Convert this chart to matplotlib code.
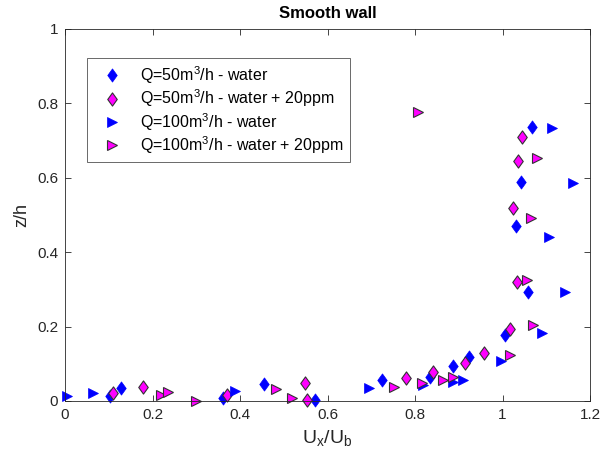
import matplotlib
matplotlib.use("Agg")
import matplotlib.pyplot as plt
from matplotlib.path import Path

plt.rcParams['font.family'] = ['Liberation Sans', 'DejaVu Sans']
plt.rcParams['mathtext.fontset'] = 'custom'
plt.rcParams['mathtext.rm'] = 'Liberation Sans'
plt.rcParams['mathtext.it'] = 'Liberation Sans'

# Q=50 m3/h - water (blue diamonds)
bd_x = [0.103, 0.127, 0.361, 0.455, 0.571, 0.724, 0.834, 0.887, 0.924, 1.006, 1.058, 1.030, 1.042, 1.068]
bd_y = [0.013, 0.035, 0.008, 0.046, 0.003, 0.056, 0.065, 0.094, 0.118, 0.177, 0.293, 0.470, 0.589, 0.736]

# Q=50 m3/h - water + 20ppm (magenta diamonds)
md_x = [0.110, 0.178, 0.370, 0.549, 0.553, 0.779, 0.841, 0.914, 0.958, 1.017, 1.033, 1.025, 1.036, 1.045]
md_y = [0.022, 0.038, 0.016, 0.048, 0.003, 0.063, 0.079, 0.103, 0.128, 0.193, 0.321, 0.518, 0.645, 0.709]

# Q=100 m3/h - water (blue triangles)
bt_x = [0.005, 0.064, 0.389, 0.695, 0.818, 0.887, 0.910, 0.997, 1.090, 1.143, 1.106, 1.161, 1.113]
bt_y = [0.013, 0.021, 0.027, 0.035, 0.043, 0.051, 0.056, 0.108, 0.183, 0.293, 0.441, 0.586, 0.734]

# Q=100 m3/h - water + 20ppm (magenta triangles)
mt_x = [0.219, 0.235, 0.299, 0.482, 0.519, 0.752, 0.816, 0.864, 0.887, 1.017, 1.070, 1.056, 1.065, 1.079, 0.807]
mt_y = [0.016, 0.024, 0.000, 0.032, 0.008, 0.038, 0.048, 0.056, 0.064, 0.124, 0.204, 0.325, 0.492, 0.653, 0.777]

labels = ['Q=50m$^3$/h - water',
          'Q=50m$^3$/h - water + 20ppm',
          'Q=100m$^3$/h - water',
          'Q=100m$^3$/h - water + 20ppm']

xticks = [0, 0.2, 0.4, 0.6, 0.8, 1, 1.2]
xticklabels = ['0', '0.2', '0.4', '0.6', '0.8', '1', '1.2']
yticks = [0, 0.2, 0.4, 0.6, 0.8, 1]
yticklabels = ['0', '0.2', '0.4', '0.6', '0.8', '1']

diamond = Path([(0, 1), (0.72, 0), (0, -1), (-0.72, 0), (0, 1)],
               [Path.MOVETO, Path.LINETO, Path.LINETO, Path.LINETO, Path.CLOSEPOLY])

fig = plt.figure(figsize=(6.04, 4.65), dpi=100)
ax = fig.add_axes([65/604, 1-401/465, 525/604, 372/465])

edge = '#333333'
dsz = 9.5
tsz = 7.5
ax.plot(bd_x, bd_y, linestyle='none', marker=diamond, markersize=dsz, color='#0000ff',
        markeredgecolor='#0000ff', markeredgewidth=0.5, label=labels[0], clip_on=False)
ax.plot(md_x, md_y, linestyle='none', marker=diamond, markersize=dsz, color='#ff00ff',
        markeredgecolor=edge, markeredgewidth=0.8, label=labels[1], clip_on=False)
ax.plot(bt_x, bt_y, linestyle='none', marker='>', markersize=tsz, color='#0000ff',
        markeredgecolor='#0000ff', markeredgewidth=0.5, label=labels[2], clip_on=False)
ax.plot(mt_x, mt_y, linestyle='none', marker='>', markersize=tsz, color='#ff00ff',
        markeredgecolor=edge, markeredgewidth=0.8, label=labels[3], clip_on=False)

ax.set_xlim(0, 1.2)
ax.set_ylim(0, 1)
ax.set_xticks(xticks)
ax.set_xticklabels(xticklabels)
ax.set_yticks(yticks)
ax.set_yticklabels(yticklabels)
ax.tick_params(direction='in', length=4, width=0.6, labelsize=11, colors='#262626',
               top=True, right=True, pad=5)
for s in ax.spines.values():
    s.set_color('#262626')
    s.set_linewidth(0.6)

ax.set_title('Smooth wall', fontsize=12, fontweight='bold', pad=8)
ax.set_xlabel('U$_x$/U$_b$', fontsize=14, color='#262626', labelpad=4)
ax.set_ylabel('z/h', fontsize=13, color='#262626', labelpad=5)

leg = ax.legend(loc='upper left', bbox_to_anchor=(22/525, 1-29/372), borderaxespad=0,
                fontsize=11.5, frameon=True, fancybox=False, labelspacing=0.1,
                handletextpad=0.6, borderpad=0.4, handlelength=2.3)
leg.get_frame().set_edgecolor('#262626')
leg.get_frame().set_linewidth(0.6)

fig.savefig('out.png', dpi=100)
